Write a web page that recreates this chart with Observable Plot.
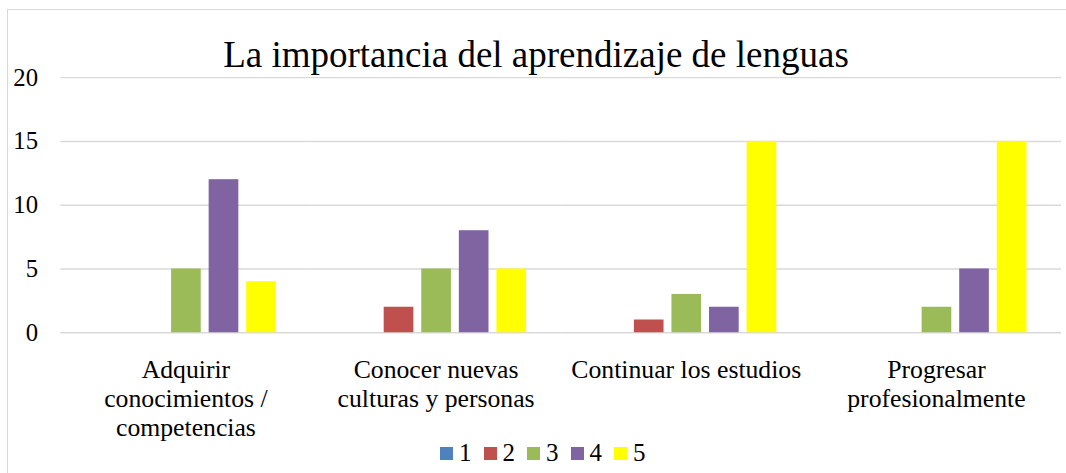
<!DOCTYPE html>
<html>
<head>
<meta charset="utf-8">
<script src="https://cdn.jsdelivr.net/npm/d3@7"></script>
<script src="https://cdn.jsdelivr.net/npm/@observablehq/plot@0.6"></script>
<style>
  html, body { margin: 0; padding: 0; background: #fff; overflow: hidden; width: 1066px; height: 473px; }
  #wrap { position: relative; width: 1066px; height: 473px; font-family: "Liberation Serif", serif; color: #000; }
  #frame { position: absolute; left: 7px; top: 9px; width: 1100px; height: 500px; border: 1px solid #d9d9d9; box-sizing: border-box; }
  #title { position: absolute; left: 0; width: 1072px; top: 33px; text-align: center; font-size: 37px; line-height: 44px; white-space: nowrap; }
  #plot { position: absolute; left: 0; top: 0; }
  #plot svg text { font-family: "Liberation Serif", serif !important; }
  #legend { position: absolute; left: 440px; top: 438px; display: flex; align-items: center; font-size: 25px; line-height: 30px; }
  .item { display: flex; align-items: center; margin-right: 12px; }
  .sw { width: 13px; height: 13px; margin-right: 6px; }
</style>
</head>
<body>
<div id="wrap">
  <div id="frame"></div>
  <div id="plot"></div>
  <div id="title"></div>
  <div id="legend"></div>
</div>
<script>
const titleText = "La importancia del aprendizaje de lenguas";
const categories = ["Adquirir\nconocimientos /\ncompetencias", "Conocer nuevas\nculturas y personas", "Continuar los estudios", "Progresar\nprofesionalmente"];
const series = ["1", "2", "3", "4", "5"];
const s1 = [0, 0, 0, 0];
const s2 = [0, 2, 1, 0];
const s3 = [5, 5, 3, 2];
const s4 = [12, 8, 2, 5];
const s5 = [4, 5, 15, 15];
const colors = ["#4f81bd", "#c0504d", "#9bbb59", "#8064a2", "#ffff00"];
const yTicks = [0, 5, 10, 15, 20];

const allSeries = [s1, s2, s3, s4, s5];
const data = [];
categories.forEach((c, i) => {
  series.forEach((s, j) => data.push({category: c, series: s, value: allSeries[j][i]}));
});

document.getElementById("title").textContent = titleText;

const serif = "'Liberation Serif', serif";
const chart = Plot.plot({
  width: 1078,
  height: 446,
  marginLeft: 61,
  marginRight: 5,
  marginTop: 78,
  marginBottom: 110,
  style: {fontFamily: serif, color: "#000", background: "transparent", overflow: "visible"},
  fx: {domain: categories, padding: 0, axis: null},
  x: {domain: series, paddingInner: 0.22, paddingOuter: 0.885, axis: null},
  y: {domain: [0, 20], axis: null},
  color: {domain: series, range: colors},
  marks: [
    Plot.gridY(yTicks, {stroke: "#d9d9d9", strokeOpacity: 1, strokeWidth: 1.5}),
    Plot.barY(data, {fx: "category", x: "series", y: "value", fill: "series"}),
    Plot.axisY(yTicks, {tickSize: 0, tickPadding: 23, fontSize: 25, fontFamily: serif, label: null}),
    Plot.axisFx({anchor: "bottom", tickSize: 0, tickPadding: 25, fontSize: 26, fontFamily: serif, lineHeight: 1.13, label: null})
  ]
});
document.getElementById("plot").appendChild(chart);

const legend = document.getElementById("legend");
series.forEach((s, j) => {
  const item = document.createElement("div");
  item.className = "item";
  const sw = document.createElement("div");
  sw.className = "sw";
  sw.style.background = colors[j];
  const t = document.createElement("span");
  t.textContent = s;
  item.appendChild(sw);
  item.appendChild(t);
  legend.appendChild(item);
});
</script>
</body>
</html>
